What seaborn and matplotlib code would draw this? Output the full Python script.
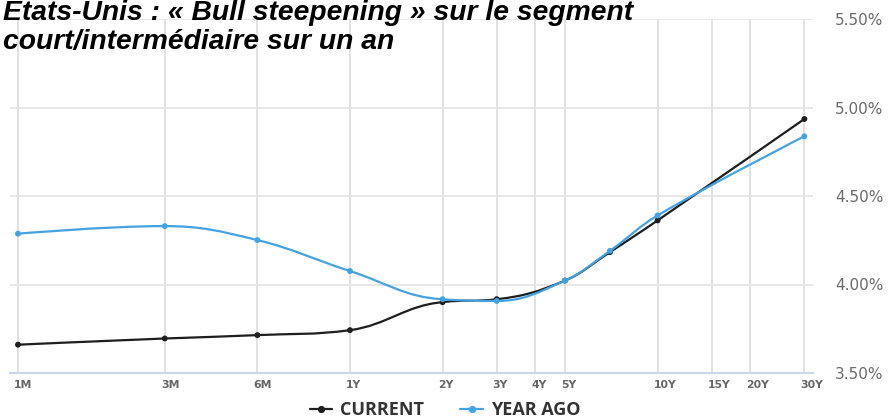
import numpy as np
import pandas as pd
import seaborn as sns
import matplotlib
matplotlib.use("Agg")
import matplotlib.pyplot as plt
from matplotlib.path import Path
from matplotlib.patches import PathPatch
from matplotlib.lines import Line2D
from matplotlib.transforms import ScaledTranslation

# Treasury yield curve: maturities (years) and yields (%)
tenors = ["1M", "3M", "6M", "1Y", "2Y", "3Y", "5Y", "7Y", "10Y", "30Y"]
years = [1 / 12, 0.25, 0.5, 1, 2, 3, 5, 7, 10, 30]
current = [3.66, 3.695, 3.714, 3.742, 3.90, 3.917, 4.022, 4.183, 4.362, 4.935]
year_ago = [4.287, 4.330, 4.251, 4.076, 3.917, 3.907, 4.022, 4.190, 4.39, 4.837]

tick_labels = ["1M", "3M", "6M", "1Y", "2Y", "3Y", "4Y", "5Y", "10Y", "15Y", "20Y", "30Y"]
tick_years = [1 / 12, 0.25, 0.5, 1, 2, 3, 4, 5, 10, 15, 20, 30]
y_ticks = [3.5, 4.0, 4.5, 5.0, 5.5]

series_names = ["CURRENT", "YEAR AGO"]
colors = {"CURRENT": "#1e1e1e", "YEAR AGO": "#45a2e0"}

df = pd.DataFrame({
    "maturity": years * 2,
    "yield": current + year_ago,
    "series": ["CURRENT"] * len(years) + ["YEAR AGO"] * len(years),
})

sns.set_theme(style="white")
plt.rcParams["font.family"] = ["DejaVu Sans"]

W, H = 890, 418
fig = plt.figure(figsize=(W / 100, H / 100), dpi=100)
ax = fig.add_axes([10 / W, (H - 373) / H, (813 - 10) / W, (373 - 19) / H])
ax.set_xscale("log", base=2)

# x range in log2 space (92.6 px per doubling, 1M sits 8 px inside the left edge)
ppu = 92.6
u0 = np.log2(1 / 12)
xlim = (2 ** (u0 - 8 / ppu), 2 ** (u0 + (813 - 18) / ppu))


def spline_path(xs, ys, smoothing=1.5):
    """Smooth bezier path through the points, computed in log2(x) space."""
    u = np.log2(np.asarray(xs, float))
    v = np.asarray(ys, float)
    n = len(u)
    left = [(u[i], v[i]) for i in range(n)]
    right = [(u[i], v[i]) for i in range(n)]
    d = smoothing + 1
    for i in range(1, n - 1):
        lx = (smoothing * u[i] + u[i - 1]) / d
        ly = (smoothing * v[i] + v[i - 1]) / d
        rx = (smoothing * u[i] + u[i + 1]) / d
        ry = (smoothing * v[i] + v[i + 1]) / d
        if rx != lx:
            corr = (ry - ly) * (rx - u[i]) / (rx - lx) + v[i] - ry
            ly += corr
            ry += corr
        if ly > v[i - 1] and ly > v[i]:
            ly = max(v[i - 1], v[i]); ry = 2 * v[i] - ly
        elif ly < v[i - 1] and ly < v[i]:
            ly = min(v[i - 1], v[i]); ry = 2 * v[i] - ly
        if ry > v[i + 1] and ry > v[i]:
            ry = max(v[i + 1], v[i]); ly = 2 * v[i] - ry
        elif ry < v[i + 1] and ry < v[i]:
            ry = min(v[i + 1], v[i]); ly = 2 * v[i] - ry
        left[i] = (lx, ly)
        right[i] = (rx, ry)
    verts = [(u[0], v[0])]
    codes = [Path.MOVETO]
    for i in range(1, n):
        verts += [right[i - 1], left[i], (u[i], v[i])]
        codes += [Path.CURVE4] * 3
    verts = [(2 ** a, b) for a, b in verts]
    return Path(verts, codes)


for k, name in enumerate(series_names):
    sub = df[df["series"] == name]
    patch = PathPatch(spline_path(sub["maturity"], sub["yield"]), fill=False,
                      edgecolor=colors[name], lw=1.6, zorder=3 + 2 * k,
                      capstyle="round", joinstyle="round")
    ax.add_patch(patch)

for k, name in enumerate(series_names):
    sns.scatterplot(data=df[df["series"] == name], x="maturity", y="yield",
                    color=colors[name], s=18, edgecolor="none", ax=ax,
                    zorder=4 + 2 * k, legend=False)

ax.set_xlim(*xlim)
ax.set_ylim(3.5, 5.5)

# grid
for t in tick_years:
    ax.axvline(t, color="#dedede", lw=1.3, zorder=1)
for t in y_ticks:
    ax.axhline(t, color="#e6e6e6", lw=1.3, zorder=1)

for s in ["top", "right", "left"]:
    ax.spines[s].set_visible(False)
ax.spines["bottom"].set_color("#ccd6eb")
ax.spines["bottom"].set_linewidth(1.5)
ax.spines["bottom"].set_zorder(2)

ax.set_xticks(tick_years)
ax.set_xticklabels(tick_labels)
ax.xaxis.set_minor_locator(matplotlib.ticker.NullLocator())
ax.tick_params(axis="x", length=0, pad=5, labelsize=7.8, labelcolor="#666666")
offset = ScaledTranslation(-4 / 100, 0, fig.dpi_scale_trans)
for lab in ax.get_xticklabels():
    lab.set_ha("left")
    lab.set_fontweight("bold")
    lab.set_transform(lab.get_transform() + offset)

ax.set_yticks(y_ticks)
ax.set_yticklabels([f"{t:.2f}%" for t in y_ticks])
ax.yaxis.tick_right()
ax.tick_params(axis="y", length=0, pad=16, labelsize=11, labelcolor="#6b6b6b",
               left=False, labelleft=False, labelright=True)
ax.set_xlabel("")
ax.set_ylabel("")

# title
title_kw = dict(fontsize=20.3, fontweight="bold", fontstyle="italic",
                family=["Liberation Sans", "DejaVu Sans"], color="black",
                va="baseline", ha="left")
fig.text(3 / W, 1 - 20.5 / H, "Etats-Unis : « Bull steepening » sur le segment", **title_kw)
fig.text(3 / W, 1 - 49 / H, "court/intermédiaire sur un an", **title_kw)

# legend
handles = [Line2D([0], [0], color=colors[n], lw=1.6, marker="o", markersize=4.2)
           for n in series_names]
leg = fig.legend(handles, series_names, loc="center", bbox_to_anchor=(445 / W, 1 - 410 / H),
                 ncol=2, frameon=False, handlelength=1.25, handletextpad=0.45,
                 columnspacing=2.0, prop={"family": "Open Sans", "weight": "bold", "size": 13})
for t in leg.get_texts():
    t.set_color("#333333")

fig.savefig("out.png", dpi=100)
